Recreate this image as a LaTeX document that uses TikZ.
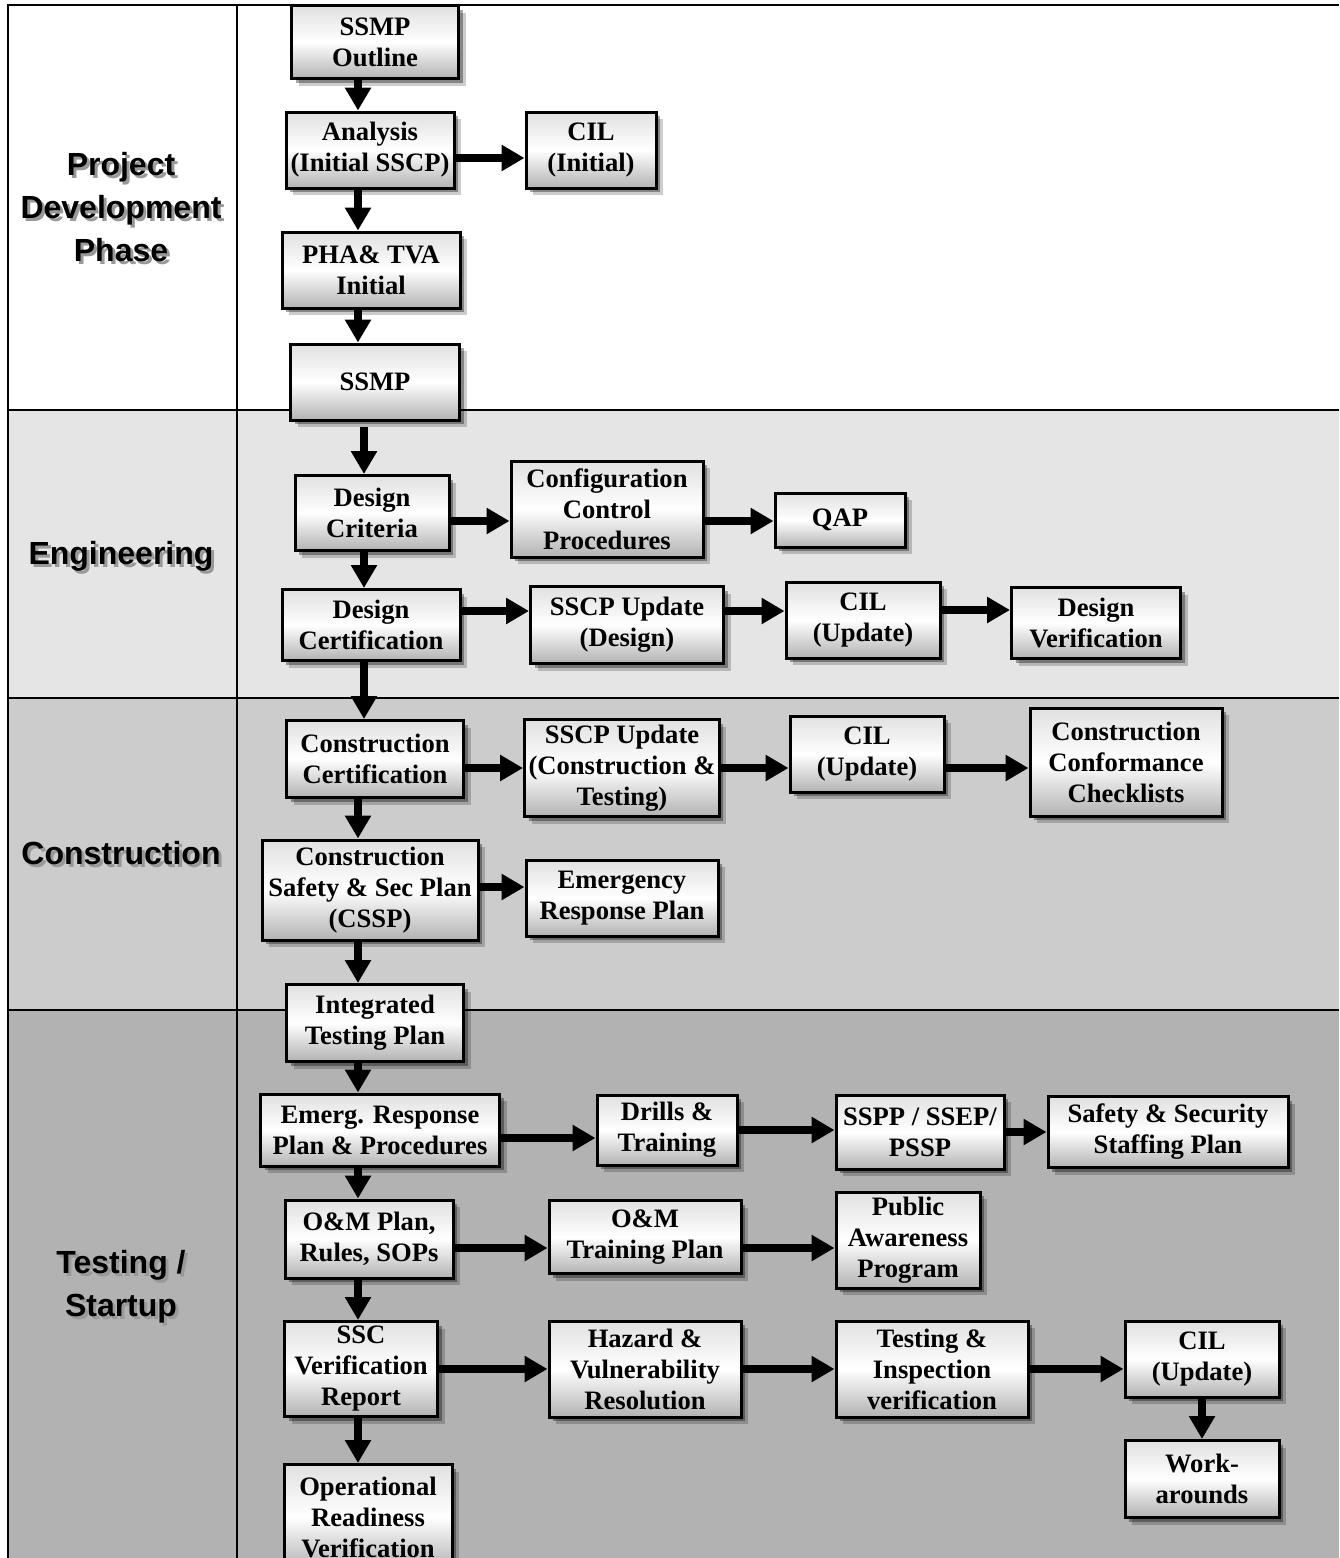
\documentclass[tikz,border=0pt]{standalone}
\usepackage{fontspec}
\setmainfont{Liberation Serif}
\newfontfamily\phasefont{Liberation Sans}
\usetikzlibrary{arrows.meta, positioning, shadows}
\definecolor{enggray}{gray}{0.90}
\definecolor{congray}{gray}{0.80}
\definecolor{testgray}{gray}{0.70}
\tikzset{
    block/.style = {rectangle, draw, line width=1.5pt, top color=black!12, bottom color=black!30, middle color=white, align=center, inner sep=2pt, font=\fontsize{13.3}{15.5}\selectfont\bfseries,
        drop shadow={shadow xshift=3.5pt, shadow yshift=-3.5pt, fill=black, opacity=0.2},
        drop shadow={shadow xshift=2pt, shadow yshift=-2pt, fill=black, opacity=0.35}},
    arrow/.style = {line width=3.6pt, -{Triangle[length=11.5pt, width=12.5pt]}},
    phase/.style = {align=center, font=\phasefont\fontsize{16}{21.5}\selectfont\bfseries},
    grid/.style = {line width=1pt}
}
\newcommand{\phasetext}[1]{\rlap{\hspace{1.5pt}\raisebox{-1.5pt}{\color{black!40}\begin{tabular}{@{}c@{}}#1\end{tabular}}}\begin{tabular}{@{}c@{}}#1\end{tabular}}

\begin{document}
\begin{tikzpicture}[x=0.5pt, y=-0.5pt]
        \useasboundingbox (0,0) rectangle (1339,1558);
        \clip (0,0) rectangle (1339,1558);

        % Phase bands
        \fill[enggray] (8,410) rectangle (1339,698);
        \fill[congray] (8,698) rectangle (1339,1010);
        \fill[testgray] (8,1010) rectangle (1339,1570);
        \draw[grid] (1339,5) -- (8,5) -- (8,1570);
        \draw[grid] (237,5) -- (237,1570);
        \draw[grid] (8,410) -- (1339,410);
        \draw[grid] (8,698) -- (1339,698);
        \draw[grid] (8,1010) -- (1339,1010);

        \node [phase] (pdp) at (121,211) {\phasetext{Project\\Development\\Phase}};
        \node [phase] (eng) at (121,557) {\phasetext{Engineering}};
        \node [phase] (con) at (121,857) {\phasetext{Construction}};
        \node [phase] (tst) at (121,1288) {\phasetext{Testing /\\Startup}};

        \coordinate (spineA) at (358,0);
        \coordinate (spineB) at (364,0);

        % Nodes
        \node [block, minimum width=83.5pt, minimum height=36.5pt] (ssmpo) at (375,42) {SSMP\\Outline};
        \node [block, minimum width=84pt, minimum height=38pt] (ana) at (370,150) {Analysis\\(Initial SSCP)};
        \node [block, right of=ana, node distance=110.5pt, minimum width=65pt, minimum height=38pt] (cil1) {CIL\\(Initial)};
        \node [block, minimum width=89pt, minimum height=38pt] (pha) at (371,270) {PHA\& TVA\\Initial};
        \node [block, minimum width=84.5pt, minimum height=38pt] (ssmp) at (375,382) {SSMP};

        \node [block, minimum width=77pt, minimum height=37.5pt] (dcrit) at (372,513) {Design\\Criteria};
        \node [block, right of=dcrit, node distance=117.5pt, minimum width=96pt, minimum height=48pt, yshift=2pt] (ccp) {Configuration\\Control\\Procedures};
        \node [block, right of=ccp, node distance=116.5pt, minimum width=65pt, minimum height=27pt, yshift=-5.5pt] (qap) {QAP};
        \node [block, minimum width=89pt, minimum height=35.5pt] (dcert) at (371,625) {Design\\Certification};
        \node [block, right of=dcert, node distance=128pt, minimum width=96.5pt, minimum height=38.5pt] (sscpd) {SSCP Update\\(Design)};
        \node [block, right of=sscpd, node distance=118pt, minimum width=77pt, minimum height=38pt, yshift=2.5pt] (cil2) {CIL\\(Update)};
        \node [block, right of=cil2, node distance=116.5pt, minimum width=84.5pt, minimum height=35.5pt, yshift=-1.5pt] (dver) {Design\\Verification};

        \node [block, minimum width=88.5pt, minimum height=38.5pt] (ccert) at (375,759) {Construction\\Certification};
        \node [block, right of=ccert, node distance=123.5pt, minimum width=96pt, minimum height=48.5pt, yshift=-4.5pt] (sscpc) {SSCP Update\\(Construction \&\\Testing)};
        \node [block, right of=sscpc, node distance=122.5pt, minimum width=77pt, minimum height=38pt, yshift=7pt] (cil3) {CIL\\(Update)};
        \node [block, right of=cil3, node distance=129.5pt, minimum width=96pt, minimum height=54pt, yshift=-4pt] (ccc) {Construction\\Conformance\\Checklists};
        \node [block, minimum width=108pt, minimum height=50pt] (cssp) at (370,890) {Construction\\Safety \& Sec Plan\\(CSSP)};
        \node [block, right of=cssp, node distance=126pt, minimum width=96pt, minimum height=38pt, yshift=-4pt] (erp) {Emergency\\Response Plan};

        \node [block, minimum width=88.5pt, minimum height=38.5pt] (itp) at (375,1023) {Integrated\\Testing Plan};
        \node [block, minimum width=119.5pt, minimum height=36pt] (erpp) at (380,1130) {Emerg. Response\\Plan \& Procedures};
        \node [block, right of=erpp, node distance=143.5pt, minimum width=70pt, minimum height=35pt] (drill) {Drills \&\\Training};
        \node [block, right of=drill, node distance=126.5pt, minimum width=84pt, minimum height=37pt, yshift=-1pt] (sspp) {SSPP / SSEP/\\PSSP};
        \node [block, right of=sspp, node distance=124pt, minimum width=120pt, minimum height=35.5pt] (sssp) {Safety \& Security\\Staffing Plan};
        \node [block, minimum width=84pt, minimum height=39pt] (omp) at (369,1239) {O\&M Plan,\\Rules, SOPs};
        \node [block, right of=omp, node distance=138pt, minimum width=96pt, minimum height=36.5pt, yshift=1pt] (omt) {O\&M\\Training Plan};
        \node [block, right of=omt, node distance=131.5pt, minimum width=72pt, minimum height=48pt, yshift=-1.5pt] (pap) {Public\\Awareness\\Program};
        \node [block, minimum width=76.5pt, minimum height=47.5pt] (sscv) at (361,1369) {SSC\\Verification\\Report};
        \node [block, right of=sscv, node distance=142pt, minimum width=96pt, minimum height=48pt] (hvr) {Hazard \&\\Vulnerability\\Resolution};
        \node [block, right of=hvr, node distance=143.5pt, minimum width=96pt, minimum height=48pt] (tiv) {Testing \&\\Inspection\\verification};
        \node [block, right of=tiv, node distance=135pt, minimum width=77pt, minimum height=38pt, yshift=5pt] (cil4) {CIL\\(Update)};
        \node [block, below of=cil4, node distance=60pt, minimum width=77pt, minimum height=38.5pt] (wa) {Work-\\arounds};
        \node [block, minimum width=84pt, minimum height=52.5pt] (orv) at (368,1517) {Operational\\Readiness\\Verification};

        % Edges
        \draw [arrow] (ssmpo.south -| spineA) -- (ana.north -| spineA);
        \draw [arrow] (ana.south -| spineA) -- (pha.north -| spineA);
        \draw [arrow] (pha.south -| spineA) -- (ssmp.north -| spineA);
        \draw [arrow] ([yshift=-2.5pt]ssmp.south -| spineB) -- (dcrit.north -| spineB);
        \draw [arrow] (dcrit.south -| spineB) -- (dcert.north -| spineB);
        \draw [arrow] (dcert.south -| spineB) -- (ccert.north -| spineB);
        \draw [arrow] (ccert.south -| spineA) -- (cssp.north -| spineA);
        \draw [arrow] (cssp.south -| spineA) -- (itp.north -| spineA);
        \draw [arrow] (itp.south -| spineA) -- (erpp.north -| spineA);
        \draw [arrow] (erpp.south -| spineA) -- (omp.north -| spineA);
        \draw [arrow] (omp.south -| spineA) -- (sscv.north -| spineA);
        \draw [arrow] (sscv.south -| spineA) -- (orv.north -| spineA);
        \draw [arrow] (cil4) -- (wa);

        \draw [arrow] ([yshift=-4pt]ana.east) -- ([yshift=-4pt]ana.east -| cil1.west);
        \draw [arrow] ([yshift=-4pt]dcrit.east) -- ([yshift=-4pt]dcrit.east -| ccp.west);
        \draw [arrow] ([yshift=-6pt]ccp.east) -- ([yshift=-6pt]ccp.east -| qap.west);
        \draw [arrow] ([yshift=7pt]dcert.east) -- ([yshift=7pt]dcert.east -| sscpd.west);
        \draw [arrow] ([yshift=7pt]sscpd.east) -- ([yshift=7pt]sscpd.east -| cil2.west);
        \draw [arrow] ([yshift=5pt]cil2.east) -- ([yshift=5pt]cil2.east -| dver.west);
        \draw [arrow] ([yshift=-4.5pt]ccert.east) -- ([yshift=-4.5pt]ccert.east -| sscpc.west);
        \draw [arrow] (sscpc.east) -- (sscpc.east -| cil3.west);
        \draw [arrow] ([yshift=-7pt]cil3.east) -- ([yshift=-7pt]cil3.east -| ccc.west);
        \draw [arrow] ([yshift=1.5pt]cssp.east) -- ([yshift=1.5pt]cssp.east -| erp.west);
        \draw [arrow] ([yshift=-4pt]erpp.east) -- ([yshift=-4pt]erpp.east -| drill.west);
        \draw [arrow] (drill.east) -- (drill.east -| sspp.west);
        \draw [arrow] (sspp.east) -- (sspp.east -| sssp.west);
        \draw [arrow] ([yshift=-4.5pt]omp.east) -- ([yshift=-4.5pt]omp.east -| omt.west);
        \draw [arrow] ([yshift=-5.5pt]omt.east) -- ([yshift=-5.5pt]omt.east -| pap.west);
        \draw [arrow] (sscv.east) -- (sscv.east -| hvr.west);
        \draw [arrow] (hvr.east) -- (hvr.east -| tiv.west);
        \draw [arrow] (tiv.east) -- (tiv.east -| cil4.west);

    \end{tikzpicture}
\end{document}
